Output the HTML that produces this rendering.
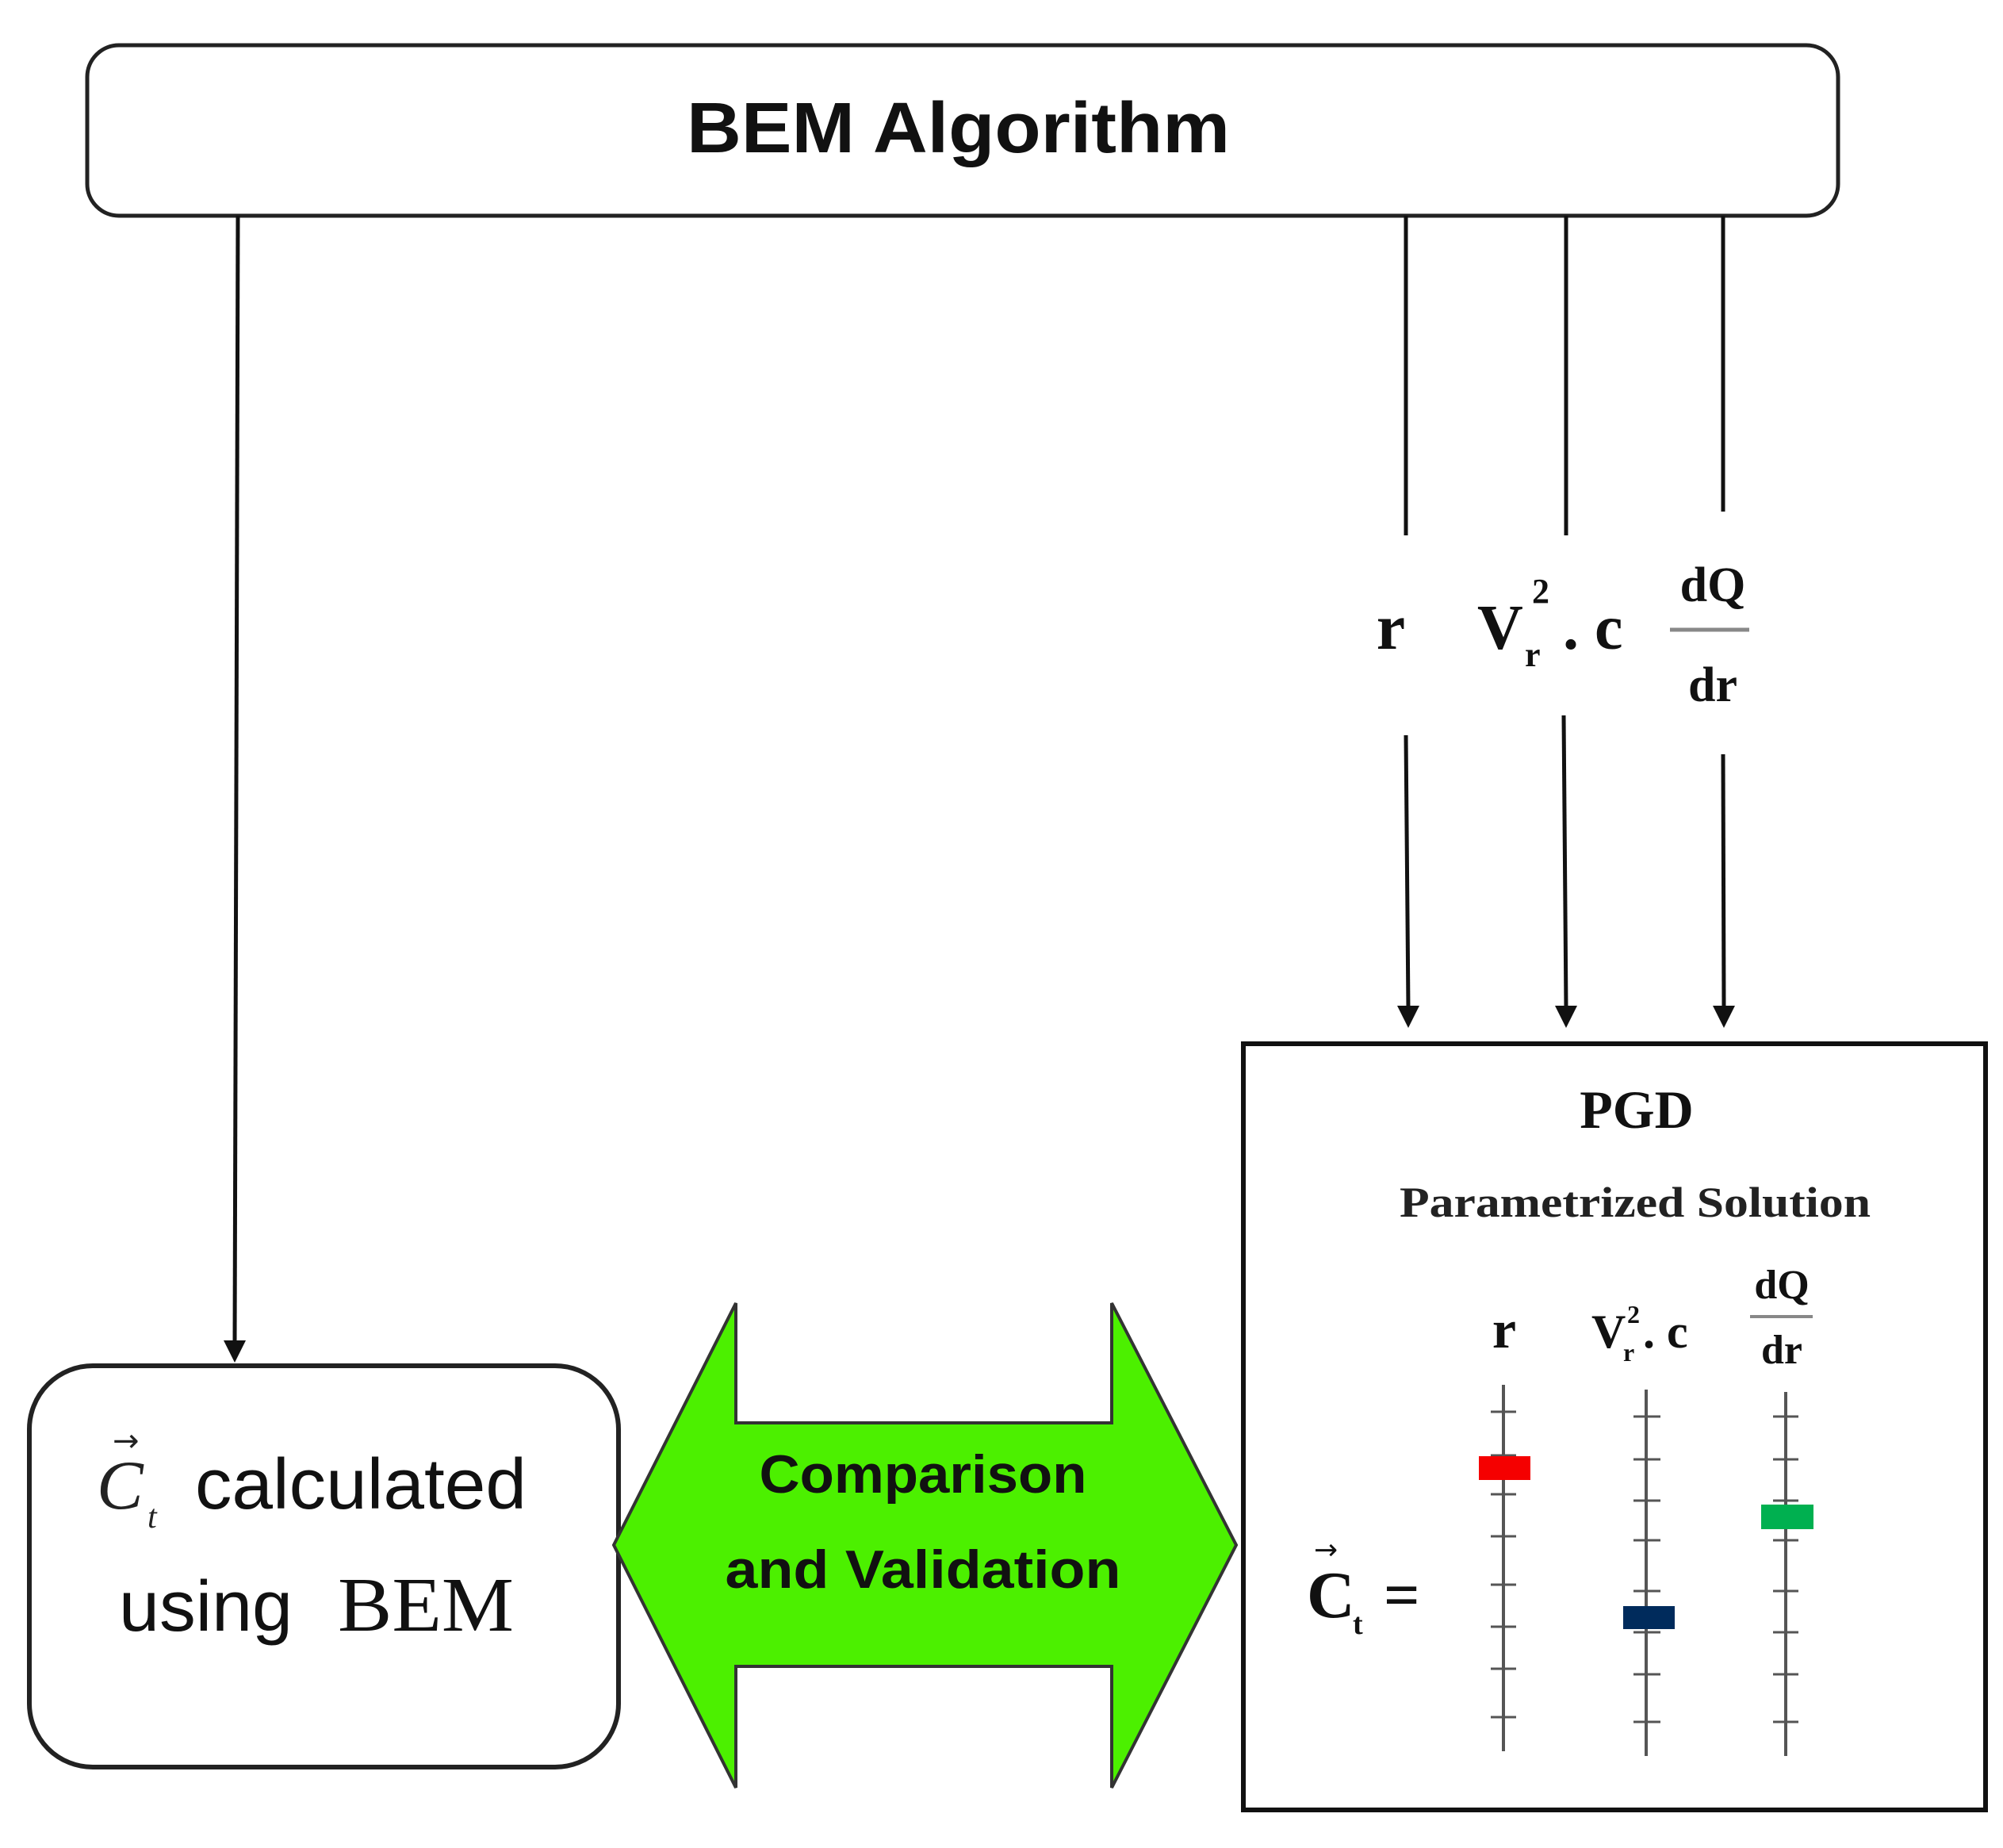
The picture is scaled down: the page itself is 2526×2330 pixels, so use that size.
<!DOCTYPE html>
<html><head><meta charset="utf-8"><style>
html,body{margin:0;padding:0;background:#fff;}
svg{display:block;}
</style></head><body>
<svg width="2526" height="2330" viewBox="0 0 2526 2330" xmlns="http://www.w3.org/2000/svg">
<!-- BEM box -->
<rect x="110" y="57" width="2208" height="215" rx="40" fill="#fff" stroke="#222" stroke-width="5"/>
<text x="866" y="192" textLength="685" lengthAdjust="spacingAndGlyphs" font-family="Liberation Sans, sans-serif" font-weight="bold" font-size="90" fill="#111">BEM Algorithm</text>

<!-- left connector -->
<line x1="300" y1="272" x2="296" y2="1695" stroke="#111" stroke-width="5"/>
<polygon points="282,1690 310,1690 296,1718" fill="#111"/>

<!-- right connectors top -->
<line x1="1773" y1="272" x2="1773" y2="675" stroke="#111" stroke-width="5"/>
<line x1="1975" y1="272" x2="1975" y2="675" stroke="#111" stroke-width="5"/>
<line x1="2173" y1="272" x2="2173" y2="645" stroke="#111" stroke-width="5"/>

<!-- labels -->
<text x="1754" y="818" text-anchor="middle" font-family="Liberation Serif, serif" font-weight="bold" font-size="82" fill="#111">r</text>
<text x="1863" y="818" font-family="Liberation Serif, serif" font-weight="bold" font-size="80" fill="#111">V</text>
<text x="1932" y="760" font-family="Liberation Serif, serif" font-weight="bold" font-size="44" fill="#111">2</text>
<text x="1923" y="840" font-family="Liberation Serif, serif" font-weight="bold" font-size="44" fill="#111">r</text>
<text x="1971" y="818" font-family="Liberation Serif, serif" font-weight="bold" font-size="80" fill="#111">. c</text>
<text x="2160" y="758" text-anchor="middle" font-family="Liberation Serif, serif" font-weight="bold" font-size="62" fill="#111">dQ</text>
<line x1="2106" y1="794" x2="2206" y2="794" stroke="#888" stroke-width="5"/>
<text x="2160" y="884" text-anchor="middle" font-family="Liberation Serif, serif" font-weight="bold" font-size="62" fill="#111">dr</text>

<!-- lower connectors -->
<line x1="1773" y1="927" x2="1776" y2="1272" stroke="#111" stroke-width="5"/>
<polygon points="1762,1268 1790,1268 1776,1296" fill="#111"/>
<line x1="1972" y1="902" x2="1975" y2="1272" stroke="#111" stroke-width="5"/>
<polygon points="1961,1268 1989,1268 1975,1296" fill="#111"/>
<line x1="2173" y1="951" x2="2174" y2="1272" stroke="#111" stroke-width="5"/>
<polygon points="2160,1268 2188,1268 2174,1296" fill="#111"/>

<!-- PGD box -->
<rect x="1568" y="1316" width="936" height="966" fill="#fff" stroke="#111" stroke-width="6"/>
<text x="2064" y="1422" text-anchor="middle" font-family="Liberation Serif, serif" font-weight="bold" font-size="68" fill="#111">PGD</text>
<text x="1765" y="1534" textLength="594" lengthAdjust="spacingAndGlyphs" font-family="Liberation Serif, serif" font-weight="bold" font-size="54" fill="#222">Parametrized  Solution</text>

<!-- axis labels -->
<text x="1897" y="1699" text-anchor="middle" font-family="Liberation Serif, serif" font-weight="bold" font-size="68" fill="#111">r</text>
<text x="2007" y="1699" font-family="Liberation Serif, serif" font-weight="bold" font-size="60" fill="#111">V</text>
<text x="2052" y="1668" font-family="Liberation Serif, serif" font-weight="bold" font-size="32" fill="#111">2</text>
<text x="2047" y="1716" font-family="Liberation Serif, serif" font-weight="bold" font-size="32" fill="#111">r</text>
<text x="2072" y="1699" font-family="Liberation Serif, serif" font-weight="bold" font-size="60" fill="#111">. c</text>
<text x="2247" y="1637" text-anchor="middle" font-family="Liberation Serif, serif" font-weight="bold" font-size="52" fill="#111">dQ</text>
<line x1="2207" y1="1660" x2="2286" y2="1660" stroke="#888" stroke-width="4"/>
<text x="2247" y="1719" text-anchor="middle" font-family="Liberation Serif, serif" font-weight="bold" font-size="52" fill="#111">dr</text>

<!-- axes -->
<g stroke="#555" stroke-width="4">
<line x1="1896" y1="1746" x2="1896" y2="2208"/>
<line x1="2076" y1="1752" x2="2076" y2="2214"/>
<line x1="2252" y1="1755" x2="2252" y2="2214"/>
</g>
<g stroke="#555" stroke-width="3">
<line x1="1880" y1="1780" x2="1912" y2="1780"/>
<line x1="1880" y1="1835" x2="1912" y2="1835"/>
<line x1="1880" y1="1884" x2="1912" y2="1884"/>
<line x1="1880" y1="1937" x2="1912" y2="1937"/>
<line x1="1880" y1="1998" x2="1912" y2="1998"/>
<line x1="1880" y1="2051" x2="1912" y2="2051"/>
<line x1="1880" y1="2104" x2="1912" y2="2104"/>
<line x1="1880" y1="2165" x2="1912" y2="2165"/>

<line x1="2060" y1="1786" x2="2094" y2="1786"/>
<line x1="2060" y1="1840" x2="2094" y2="1840"/>
<line x1="2060" y1="1892" x2="2094" y2="1892"/>
<line x1="2060" y1="1942" x2="2094" y2="1942"/>
<line x1="2060" y1="2006" x2="2094" y2="2006"/>
<line x1="2060" y1="2058" x2="2094" y2="2058"/>
<line x1="2060" y1="2111" x2="2094" y2="2111"/>
<line x1="2060" y1="2171" x2="2094" y2="2171"/>

<line x1="2236" y1="1786" x2="2268" y2="1786"/>
<line x1="2236" y1="1840" x2="2268" y2="1840"/>
<line x1="2236" y1="1892" x2="2268" y2="1892"/>
<line x1="2236" y1="1942" x2="2268" y2="1942"/>
<line x1="2236" y1="2006" x2="2268" y2="2006"/>
<line x1="2236" y1="2058" x2="2268" y2="2058"/>
<line x1="2236" y1="2111" x2="2268" y2="2111"/>
<line x1="2236" y1="2171" x2="2268" y2="2171"/>
</g>
<rect x="1865" y="1836" width="65" height="30" fill="#f50000"/>
<rect x="2047" y="2025" width="65" height="29" fill="#002b5c"/>
<rect x="2221" y="1897" width="66" height="31" fill="#00b050"/>

<!-- Ct = -->
<text x="1648" y="2039" font-family="Liberation Serif, serif" font-weight="bold" font-size="84" fill="#111">C</text>
<text x="1706" y="2060" font-family="Liberation Serif, serif" font-weight="bold" font-size="38" fill="#111">t</text>
<text x="1657" y="1966" font-family="DejaVu Sans, sans-serif" font-size="36" fill="#111">→</text>
<text x="1745" y="2038" font-family="Liberation Serif, serif" font-weight="bold" font-size="80" fill="#111">=</text>

<!-- left box -->
<rect x="37" y="1722" width="743" height="506" rx="80" fill="#fff" stroke="#222" stroke-width="6"/>
<text x="122" y="1902" font-family="Liberation Serif, serif" font-style="italic" font-size="88" fill="#222">C</text>
<text x="186" y="1926" font-family="Liberation Serif, serif" font-style="italic" font-size="42" fill="#222">t</text>
<text x="142" y="1830" font-family="DejaVu Sans, sans-serif" font-size="40" fill="#222">→</text>
<text x="246" y="1902" textLength="418" lengthAdjust="spacingAndGlyphs" font-family="Liberation Sans, sans-serif" font-size="90" fill="#111">calculated</text>
<text x="150" y="2056" textLength="219" lengthAdjust="spacingAndGlyphs" font-family="Liberation Sans, sans-serif" font-size="90" fill="#111">using</text>
<text x="426" y="2056" textLength="222" lengthAdjust="spacingAndGlyphs" font-family="Liberation Serif, serif" font-size="98" fill="#111">BEM</text>

<!-- green double arrow -->
<polygon points="774,1948 928,1643 928,1794 1402,1794 1402,1643 1559,1948 1402,2254 1402,2101 928,2101 928,2254" fill="#4cf000" stroke="#333" stroke-width="4"/>
<text x="1164" y="1882" text-anchor="middle" textLength="413" lengthAdjust="spacingAndGlyphs" font-family="Liberation Sans, sans-serif" font-weight="bold" font-size="68" fill="#111">Comparison</text>
<text x="1164" y="2002" text-anchor="middle" textLength="499" lengthAdjust="spacingAndGlyphs" font-family="Liberation Sans, sans-serif" font-weight="bold" font-size="68" fill="#111">and Validation</text>
</svg>
</body></html>
